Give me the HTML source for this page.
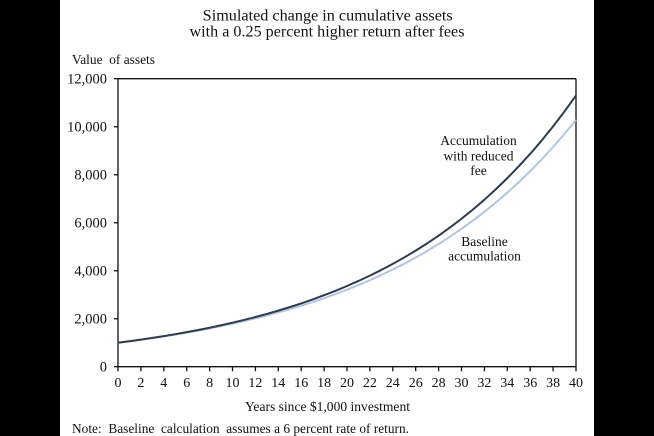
<!DOCTYPE html>
<html>
<head>
<meta charset="utf-8">
<style>
  html, body { margin: 0; padding: 0; background: #000; }
  svg { display: block; }
  text { font-family: "Liberation Serif", "Times New Roman", serif; fill: #111; }
</style>
</head>
<body>
<svg width="654" height="436" viewBox="0 0 654 436" xmlns="http://www.w3.org/2000/svg">
  <rect x="0" y="0" width="654" height="436" fill="#000"/>
  <rect x="60" y="0" width="534" height="436" fill="#fff"/>

  <!-- Title -->
  <text x="327.7" y="20.5" font-size="15.5" text-anchor="middle" textLength="250" lengthAdjust="spacingAndGlyphs">Simulated change in cumulative assets</text>
  <text x="327" y="36.5" font-size="15.5" text-anchor="middle" textLength="275" lengthAdjust="spacingAndGlyphs">with a 0.25 percent higher return after fees</text>

  <!-- Y axis label -->
  <text x="72" y="64" font-size="14" textLength="83" lengthAdjust="spacingAndGlyphs" xml:space="preserve">Value  of assets</text>

  <!-- Frame -->
  <g stroke="#111" stroke-width="1.3" fill="none">
    <line x1="118" y1="78.7" x2="576" y2="78.7"/>
    <line x1="576" y1="78.7" x2="576" y2="366.7"/>
    <line x1="118" y1="78.7" x2="118" y2="366.7"/>
    <line x1="114" y1="366.7" x2="576" y2="366.7"/>
    <!-- y ticks -->
    <line x1="114" y1="78.7" x2="118" y2="78.7"/>
    <line x1="114" y1="126.7" x2="118" y2="126.7"/>
    <line x1="114" y1="174.7" x2="118" y2="174.7"/>
    <line x1="114" y1="222.7" x2="118" y2="222.7"/>
    <line x1="114" y1="270.7" x2="118" y2="270.7"/>
    <line x1="114" y1="318.7" x2="118" y2="318.7"/>
    <!-- x ticks -->
    <path d="M118 366.7v4.5 M140.9 366.7v4.5 M163.8 366.7v4.5 M186.7 366.7v4.5 M209.6 366.7v4.5 M232.5 366.7v4.5 M255.4 366.7v4.5 M278.3 366.7v4.5 M301.2 366.7v4.5 M324.1 366.7v4.5 M347 366.7v4.5 M369.9 366.7v4.5 M392.8 366.7v4.5 M415.7 366.7v4.5 M438.6 366.7v4.5 M461.5 366.7v4.5 M484.4 366.7v4.5 M507.3 366.7v4.5 M530.2 366.7v4.5 M553.1 366.7v4.5 M576 366.7v4.5"/>
  </g>

  <!-- Y tick labels -->
  <g font-size="14.5" text-anchor="end">
    <text x="107" y="83.5">12,000</text>
    <text x="107" y="131.5">10,000</text>
    <text x="107" y="179.5">8,000</text>
    <text x="107" y="227.5">6,000</text>
    <text x="107" y="275.5">4,000</text>
    <text x="107" y="323.5">2,000</text>
    <text x="107" y="371.5">0</text>
  </g>

  <!-- X tick labels -->
  <g font-size="14" text-anchor="middle">
    <text x="118" y="387">0</text>
    <text x="140.9" y="387">2</text>
    <text x="163.8" y="387">4</text>
    <text x="186.7" y="387">6</text>
    <text x="209.6" y="387">8</text>
    <text x="232.5" y="387">10</text>
    <text x="255.4" y="387">12</text>
    <text x="278.3" y="387">14</text>
    <text x="301.2" y="387">16</text>
    <text x="324.1" y="387">18</text>
    <text x="347" y="387">20</text>
    <text x="369.9" y="387">22</text>
    <text x="392.8" y="387">24</text>
    <text x="415.7" y="387">26</text>
    <text x="438.6" y="387">28</text>
    <text x="461.5" y="387">30</text>
    <text x="484.4" y="387">32</text>
    <text x="507.3" y="387">34</text>
    <text x="530.2" y="387">36</text>
    <text x="553.1" y="387">38</text>
    <text x="576" y="387">40</text>
  </g>

  <!-- X axis title -->
  <text x="245" y="411" font-size="13.5" textLength="165" lengthAdjust="spacingAndGlyphs">Years since $1,000 investment</text>

  <!-- Note -->
  <text x="72" y="433" font-size="13.5" textLength="337" lengthAdjust="spacingAndGlyphs" xml:space="preserve">Note:  Baseline  calculation  assumes a 6 percent rate of return.</text>

  <!-- Baseline series (light) -->
  <polyline fill="none" stroke="#b3c6dd" stroke-width="2" stroke-linejoin="round"
    points="118,342.7 129.45,341.26 140.9,339.73 152.35,338.12 163.8,336.4 175.25,334.58 186.7,332.66 198.15,330.61 209.6,328.45 221.05,326.15 232.5,323.72 243.95,321.14 255.4,318.41 266.85,315.51 278.3,312.44 289.75,309.18 301.2,305.73 312.65,302.07 324.1,298.2 335.55,294.09 347,289.73 358.45,285.11 369.9,280.22 381.35,275.03 392.8,269.53 404.25,263.69 415.7,257.51 427.15,250.96 438.6,244.02 450.05,236.66 461.5,228.86 472.95,220.59 484.4,211.82 495.85,202.53 507.3,192.68 518.75,182.23 530.2,171.17 541.65,159.43 553.1,147 564.55,133.82 576,119.84"/>

  <!-- Reduced fee series (dark) -->
  <polyline fill="none" stroke="#2e3a4e" stroke-width="2" stroke-linejoin="round"
    points="118,342.7 129.45,341.2 140.9,339.61 152.35,337.91 163.8,336.11 175.25,334.2 186.7,332.17 198.15,330.01 209.6,327.72 221.05,325.28 232.5,322.69 243.95,319.94 255.4,317.02 266.85,313.91 278.3,310.62 289.75,307.11 301.2,303.39 312.65,299.43 324.1,295.22 335.55,290.76 347,286.01 358.45,280.97 369.9,275.61 381.35,269.92 392.8,263.87 404.25,257.44 415.7,250.61 427.15,243.35 438.6,235.65 450.05,227.45 461.5,218.75 472.95,209.5 484.4,199.68 495.85,189.24 507.3,178.15 518.75,166.36 530.2,153.84 541.65,140.54 553.1,126.41 564.55,111.39 576,95.43"/>

  <!-- Annotations -->
  <g font-size="13.5" text-anchor="middle">
    <text x="478.5" y="145">Accumulation</text>
    <text x="478.5" y="160.5">with reduced</text>
    <text x="478.5" y="175">fee</text>
    <text x="484.5" y="246">Baseline</text>
    <text x="484.5" y="260.5">accumulation</text>
  </g>
</svg>
</body>
</html>
